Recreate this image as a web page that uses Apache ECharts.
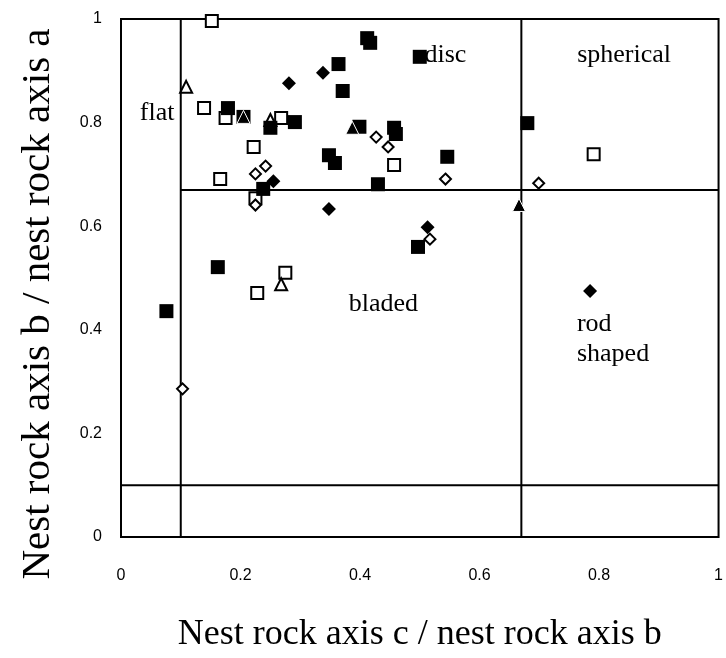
<!DOCTYPE html>
<html>
<head>
<meta charset="utf-8">
<script src="https://cdn.jsdelivr.net/npm/echarts@6/dist/echarts.min.js"></script>
<style>
html,body{margin:0;padding:0;background:#fff;}
#chart{width:726px;height:658px;}
</style>
</head>
<body>
<div id="chart"></div>
<script>
// ---- data (x = c/b, y = b/a) ----
const filledSquares = [
  [0.076,0.436],[0.162,0.521],[0.179,0.828],[0.205,0.811],[0.250,0.790],[0.291,0.801],
  [0.238,0.672],[0.348,0.737],[0.358,0.722],[0.364,0.913],[0.371,0.861],[0.412,0.963],
  [0.417,0.954],[0.399,0.792],[0.457,0.790],[0.460,0.778],[0.430,0.681],[0.500,0.927],
  [0.546,0.734],[0.497,0.560],[0.680,0.799]
];
const openSquares = [
  [0.152,0.996],[0.139,0.828],[0.175,0.809],[0.268,0.809],[0.222,0.753],[0.166,0.691],
  [0.225,0.654],[0.275,0.510],[0.228,0.471],[0.457,0.718],[0.791,0.739]
];
const filledDiamonds = [
  [0.281,0.876],[0.338,0.896],[0.255,0.687],[0.348,0.633],[0.513,0.598],[0.785,0.475]
];
const openDiamonds = [
  [0.103,0.286],[0.225,0.701],[0.242,0.716],[0.225,0.641],[0.427,0.772],[0.447,0.753],
  [0.543,0.691],[0.517,0.575],[0.699,0.683]
];
const filledTriangles = [[0.205,0.811],[0.387,0.790],[0.666,0.641]];
const openTriangles = [[0.109,0.869],[0.250,0.805],[0.268,0.488]];

// class boundaries (Zingg-type)
const boundaryLines = [
  [[0.1,0],[0.1,1]],
  [[0.67,0],[0.67,1]],
  [[0,0.1],[1,0.1]],
  [[0.1,0.67],[1,0.67]]
];
const zoneLabels = [
  {text:'flat', x:0.0604, y:0.819, align:'center'},
  {text:'disc', x:0.543, y:0.930, align:'center'},
  {text:'spherical', x:0.842, y:0.930, align:'center'},
  {text:'bladed', x:0.439, y:0.450, align:'center'},
  {text:'rod', x:0.763, y:0.410, align:'left'},
  {text:'shaped', x:0.763, y:0.352, align:'left'}
];
const xTitle = 'Nest rock axis c / nest rock axis b';
const yTitle = 'Nest rock axis b / nest rock axis a';

const chart = echarts.init(document.getElementById('chart'), null, {renderer:'canvas'});

const series = [];
boundaryLines.forEach(seg => {
  series.push({type:'line', data:seg, symbol:'none', silent:true, z:1,
    lineStyle:{color:'#000', width:2, opacity:1}});
});
function sc(data, symbol, size, open, extra) {
  return Object.assign({type:'scatter', data:data, symbol:symbol, symbolSize:size, z:3, silent:true,
    itemStyle: open ? {color:'#fff', borderColor:'#000', borderWidth:2, opacity:1}
                    : {color:'#000', borderWidth:0, opacity:1}}, extra || {});
}
series.push(sc(openSquares, 'rect', 12, true));
series.push(sc(openTriangles, 'triangle', 12, true));
series.push(sc(filledSquares, 'rect', 14, false));
series.push(sc(filledDiamonds, 'diamond', 14, false));
series.push(sc(openDiamonds, 'diamond', 11, true));
series.push(sc(filledTriangles, 'triangle', 13, false,
  {itemStyle:{color:'#000', borderColor:'#fff', borderWidth:1, opacity:1}}));
series.push({
  type:'scatter', silent:true, z:4, symbolSize:0, itemStyle:{opacity:1},
  data: zoneLabels.map(l => ({value:[l.x, l.y], name:l.text,
    label:{show:true, position:'inside', formatter:l.text, align:l.align,
      verticalAlign:'middle', color:'#000', opacity:1, fontFamily:'Liberation Serif', fontSize:26}}))
});

chart.setOption({
  animation:false,
  backgroundColor:'#fff',
  grid:{left:121, right:1, top:19, bottom:121, show:true, borderColor:'#000', borderWidth:2,
    backgroundColor:'transparent'},
  xAxis:{type:'value', min:0, max:1, interval:0.2,
    axisLine:{show:false}, axisTick:{show:false}, splitLine:{show:false},
    axisLabel:{margin:31, color:'#000', fontFamily:'Liberation Sans', fontSize:16},
    name:xTitle, nameLocation:'middle', nameGap:80,
    nameTextStyle:{color:'#000', fontFamily:'Liberation Serif', fontSize:36}},
  yAxis:{type:'value', min:0, max:1, interval:0.2,
    axisLine:{show:false}, axisTick:{show:false}, splitLine:{show:false},
    axisLabel:{margin:19, color:'#000', fontFamily:'Liberation Sans', fontSize:16},
    name:yTitle, nameLocation:'middle', nameGap:62,
    nameTextStyle:{color:'#000', fontFamily:'Liberation Serif', fontSize:41, padding:[0,52,0,0]}},
  series:series
});
</script>
</body>
</html>
